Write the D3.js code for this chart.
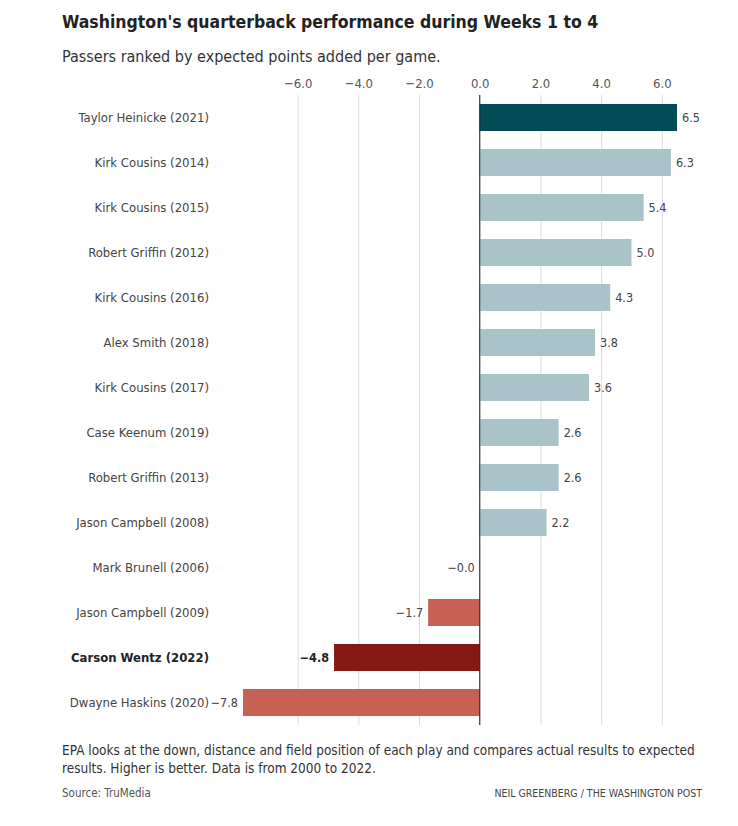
<!DOCTYPE html>
<html>
<head>
<meta charset="utf-8">
<script src="https://cdn.jsdelivr.net/npm/d3@7"></script>
<style>
  body { margin: 0; background: #fff; }
  svg text { font-family: "Liberation Sans Narrow", "DejaVu Sans Condensed", "Roboto", sans-serif; }
</style>
</head>
<body>
<div id="chart"></div>
<script>
// Passers, top to bottom as in the ranking
const passers = [
  "Taylor Heinicke (2021)", "Kirk Cousins (2014)", "Kirk Cousins (2015)",
  "Robert Griffin (2012)", "Kirk Cousins (2016)", "Alex Smith (2018)",
  "Kirk Cousins (2017)", "Case Keenum (2019)", "Robert Griffin (2013)",
  "Jason Campbell (2008)", "Mark Brunell (2006)", "Jason Campbell (2009)",
  "Carson Wentz (2022)", "Dwayne Haskins (2020)"
];
const epa = [6.5, 6.3, 5.4, 5.0, 4.3, 3.8, 3.6, 2.6, 2.6, 2.2, -0.0001, -1.7, -4.8, -7.8];
const highlight = ["Taylor Heinicke (2021)", "Carson Wentz (2022)"];
const boldLabel = "Carson Wentz (2022)";
const xTicks = [-6, -4, -2, 0, 2, 4, 6];

const width = 738, height = 826;
const margin = { top: 95, bottom: 101, left: 243, right: 61 };

const svg = d3.select("#chart").append("svg")
  .attr("width", width).attr("height", height);

const data = passers.map((p, i) => ({ name: p, value: epa[i] }));

const x = d3.scaleLinear()
  .domain([-7.8, 6.5])
  .range([margin.left, width - margin.right]);

const y = d3.scaleBand()
  .domain(passers)
  .range([margin.top, height - margin.bottom])
  .paddingInner(0.4)
  .paddingOuter(0.2);

function barColor(d) {
  const hi = highlight.includes(d.name);
  if (d.value >= 0) return hi ? "#014c56" : "#a9c4c8";
  return hi ? "#861813" : "#c76153";
}

// Title and subtitle
svg.append("text")
  .attr("x", 62).attr("y", 28)
  .attr("font-size", 17.5).attr("font-weight", "bold").attr("fill", "#222")
  .text("Washington's quarterback performance during Weeks 1 to 4");
svg.append("text")
  .attr("x", 62).attr("y", 62)
  .attr("font-size", 16).attr("fill", "#333")
  .text("Passers ranked by expected points added per game.");

// Gridlines + tick labels
const axis = svg.append("g")
  .attr("transform", `translate(0,${margin.top})`)
  .call(d3.axisTop(x).tickValues(xTicks).tickFormat(d3.format(".1f"))
    .tickSize(-(height - margin.bottom - margin.top)).tickPadding(7));
axis.select(".domain").remove();
axis.selectAll(".tick line").attr("stroke", "#dcdcdc");
axis.selectAll(".tick text")
  .attr("font-size", 13).attr("fill", "#555")
  .style("font-family", "Liberation Sans Narrow, DejaVu Sans Condensed, sans-serif");

// Bars
svg.append("g").selectAll("rect")
  .data(data)
  .join("rect")
  .attr("x", d => x(Math.min(0, d.value)))
  .attr("width", d => Math.abs(x(d.value) - x(0)))
  .attr("y", d => y(d.name))
  .attr("height", y.bandwidth())
  .attr("fill", barColor);

// Zero line
svg.append("line")
  .attr("x1", x(0)).attr("x2", x(0))
  .attr("y1", margin.top).attr("y2", height - margin.bottom)
  .attr("stroke", "#222").attr("stroke-width", 1);

// Value labels
svg.append("g").selectAll("text")
  .data(data)
  .join("text")
  .attr("x", d => d.value >= 0 ? x(d.value) + 5 : x(d.value) - 5)
  .attr("y", d => y(d.name) + y.bandwidth() / 2)
  .attr("dy", "0.35em")
  .attr("text-anchor", d => d.value >= 0 ? "start" : "end")
  .attr("font-size", 12.5)
  .attr("font-weight", d => d.name === boldLabel ? "bold" : "normal")
  .attr("fill", d => d.name === boldLabel ? "#222" : "#444")
  .text(d => d.value >= 0 ? d3.format(".1f")(d.value) : "\u2212" + d3.format(".1f")(Math.abs(d.value)));

// Passer names
svg.append("g").selectAll("text")
  .data(data)
  .join("text")
  .attr("x", 209)
  .attr("y", d => y(d.name) + y.bandwidth() / 2)
  .attr("dy", "0.35em")
  .attr("text-anchor", "end")
  .attr("font-size", 13)
  .attr("font-weight", d => d.name === boldLabel ? "bold" : "normal")
  .attr("fill", d => d.name === boldLabel ? "#222" : "#444")
  .text(d => d.name);

// Footnote
const note = svg.append("text")
  .attr("x", 62).attr("y", 755)
  .attr("font-size", 13.5).attr("fill", "#333");
note.append("tspan").attr("x", 62)
  .text("EPA looks at the down, distance and field position of each play and compares actual results to expected");
note.append("tspan").attr("x", 62).attr("dy", 18)
  .text("results. Higher is better. Data is from 2000 to 2022.");

svg.append("text")
  .attr("x", 62).attr("y", 797)
  .attr("font-size", 11.5).attr("fill", "#555")
  .text("Source: TruMedia");
svg.append("text")
  .attr("x", 702).attr("y", 797)
  .attr("text-anchor", "end")
  .attr("font-size", 10.5).attr("fill", "#444")
  .text("NEIL GREENBERG / THE WASHINGTON POST");
</script>
</body>
</html>
